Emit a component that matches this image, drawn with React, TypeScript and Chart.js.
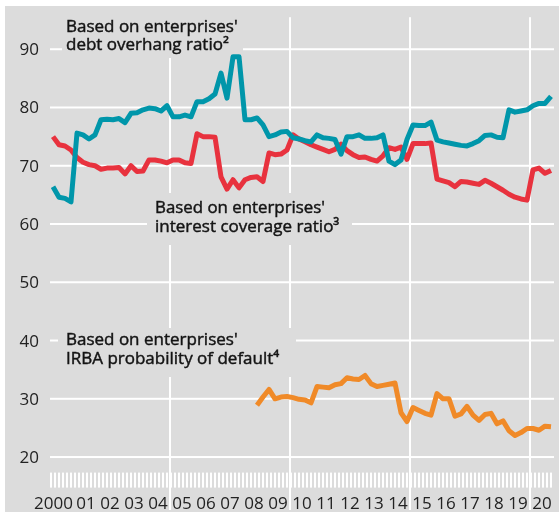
import React, { useEffect, useRef } from "react";
import { Chart, registerables } from "chart.js";

Chart.register(...registerables);

// Quarterly series, 2000 Q1 - 2020 Q4
const startYear = 2000;
const debtOverhang = [
  66.4, 64.6, 64.4, 63.8,
  75.6, 75.3, 74.6, 75.3,
  77.9, 78.0, 77.9, 78.1,
  77.4, 79.0, 79.1, 79.6,
  79.9, 79.8, 79.4, 80.3,
  78.4, 78.4, 78.7, 78.4,
  81.0, 81.0, 81.5, 82.3,
  85.9, 81.6, 88.7, 88.7,
  77.9, 77.9, 78.2, 77.0,
  75.0, 75.3, 75.8, 75.9,
  74.8, 74.6, 74.3, 74.1,
  75.3, 74.8, 74.7, 74.5,
  72.0, 75.0, 75.0, 75.3,
  74.7, 74.7, 74.8, 75.3,
  70.8, 70.2, 71.0, 74.5,
  77.0, 76.9, 76.9, 77.5,
  74.4, 74.1, 73.9, 73.7,
  73.5, 73.4, 73.8, 74.3,
  75.2, 75.3, 74.9, 74.8,
  79.6, 79.2, 79.4, 79.6,
  80.3, 80.7, 80.7, 81.9,
];
const interestCoverage = [
  75.0, 73.6, 73.4, 72.7,
  71.4, 70.6, 70.2, 70.0,
  69.4, 69.6, 69.6, 69.7,
  68.6, 70.0, 69.0, 69.1,
  71.0, 71.0, 70.8, 70.5,
  71.0, 71.0, 70.5, 70.4,
  75.5, 75.0, 75.0, 74.9,
  68.1, 66.0, 67.6, 66.2,
  67.6, 68.0, 68.1, 67.3,
  72.2, 71.9, 72.0, 72.7,
  75.3, 74.6, 74.1, 73.6,
  73.2, 72.8, 72.4, 72.8,
  73.7, 72.6, 71.9, 71.4,
  71.5, 71.1, 70.8, 71.7,
  73.1, 72.8, 73.2, 71.1,
  73.8, 73.8, 73.8, 73.9,
  67.7, 67.4, 67.1, 66.4,
  67.3, 67.2, 67.0, 66.8,
  67.5, 67.0, 66.4, 65.8,
  65.1, 64.6, 64.3, 64.1,
  69.3, 69.6, 68.7, 69.2,
];
// IRBA series starts in 2008 Q3 (quarter index 34)
const irbaStartQuarter = 34;
const irbaPD = [
  28.9, 30.3, 31.6, 30.0, 30.3, 30.4,
  30.2, 29.9, 29.8, 29.3,
  32.1, 32.0, 31.9, 32.4,
  32.6, 33.6, 33.4, 33.3,
  34.0, 32.6, 32.1, 32.3,
  32.5, 32.7, 27.6, 26.1,
  28.5, 28.0, 27.5, 27.2,
  30.9, 30.0, 30.0, 27.0,
  27.4, 28.7, 27.2, 26.3,
  27.3, 27.5, 25.7, 26.2,
  24.5, 23.7, 24.2, 24.9,
  24.9, 24.6, 25.3, 25.2,
];

const yTickValues = [20, 30, 40, 50, 60, 70, 80, 90];
const yearLabels = [
  "2000", "01", "02", "03", "04", "05", "06", "07", "08", "09", "10",
  "11", "12", "13", "14", "15", "16", "17", "18", "19", "20",
];
const gridYears = [2005, 2010, 2015, 2020];

const seriesLabels = [
  ["Based on enterprises'", "debt overhang ratio\u00b2"],
  ["Based on enterprises'", "interest coverage ratio\u00b3"],
  ["Based on enterprises'", "IRBA probability of default\u2074"],
];

const TEAL = "#0096aa";
const RED = "#e8323e";
const ORANGE = "#f08a28";
const BG = "#dcdcdc";
const TEXT = "#141414";
const FONT = '"Open Sans", "Noto Sans", sans-serif';

const quarterX = (q: number) => startYear + (q + 0.5) / 4;

const decorPlugin = {
  id: "decor",
  beforeDatasetsDraw(chart: any) {
    const ctx = chart.ctx as CanvasRenderingContext2D;
    const xs = chart.scales.x;
    const ys = chart.scales.y;
    const area = chart.chartArea;
    const x0 = xs.getPixelForValue(2000);
    const x1 = xs.getPixelForValue(2021);
    ctx.save();
    // background
    ctx.fillStyle = BG;
    ctx.fillRect(5, 6, chart.width - 5, 506);

    // horizontal grid
    ctx.fillStyle = "#ffffff";
    yTickValues.forEach((v) => {
      const y = ys.getPixelForValue(v);
      ctx.fillRect(x0, y - 1, x1 - x0, 2);
    });
    // vertical grid
    gridYears.forEach((yr) => {
      const x = xs.getPixelForValue(yr);
      ctx.fillRect(x - 1, area.top, 2, 510 - area.top);
    });
    // minor ticks (every two months)
    for (let m = 0; m < 21 * 12; m += 2) {
      const x = xs.getPixelForValue(2000 + m / 12);
      ctx.fillRect(Math.round(x), area.bottom + 1, 2, 15);
    }

    // boxes behind the labels
    ctx.fillStyle = BG;
    ctx.fillRect(62, 10, 181, 48);
    ctx.fillRect(147, 193, 205, 52);
    ctx.fillRect(58, 328, 238, 49);

    // series labels
    ctx.fillStyle = TEXT;
    ctx.strokeStyle = TEXT;
    ctx.lineWidth = 0.45;
    ctx.textAlign = "left";
    ctx.textBaseline = "alphabetic";
    ctx.font = `17px ${FONT}`;
    const lab = (t: string, x: number, y: number, w: number) => {
      ctx.fillText(t, x, y, w);
      ctx.strokeText(t, x, y, w);
    };
    lab(seriesLabels[0][0], 66, 32, 175);
    lab(seriesLabels[0][1], 66, 50, 176);
    lab(seriesLabels[1][0], 155, 213, 170);
    lab(seriesLabels[1][1], 155, 232, 188);
    lab(seriesLabels[2][0], 66, 345, 172);
    lab(seriesLabels[2][1], 66, 364, 217);

    // y tick labels
    ctx.fillStyle = "#222222";
    ctx.font = `17px ${FONT}`;
    ctx.textAlign = "right";
    yTickValues.forEach((v) => {
      const y = ys.getPixelForValue(v);
      ctx.fillText(String(v), 39, y + 6);
    });
    // x year labels
    yearLabels.forEach((t, i) => {
      if (i === 0) {
        ctx.textAlign = "right";
        ctx.fillText(t, xs.getPixelForValue(2001) - 1, 509);
      } else {
        ctx.textAlign = "center";
        ctx.fillText(t, xs.getPixelForValue(2000 + i + 0.5), 509, 21);
      }
    });
    ctx.restore();
  },
};

export default function App() {
  const ref = useRef<HTMLCanvasElement | null>(null);
  useEffect(() => {
    if (!ref.current) return;
    const chart = new Chart(ref.current, {
      type: "line",
      data: {
        datasets: [
          {
            label: "debt overhang",
            data: debtOverhang.map((v, q) => ({ x: quarterX(q), y: v })),
            borderColor: TEAL,
            borderWidth: 5,
          },
          {
            label: "interest coverage",
            data: interestCoverage.map((v, q) => ({ x: quarterX(q), y: v })),
            borderColor: RED,
            borderWidth: 5,
          },
          {
            label: "IRBA",
            data: irbaPD.map((v, i) => ({ x: quarterX(i + irbaStartQuarter), y: v })),
            borderColor: ORANGE,
            borderWidth: 5,
          },
        ],
      },
      options: {
        animation: false,
        responsive: false,
        devicePixelRatio: 1,
        layout: { padding: { left: 50, right: 5, top: 17.2, bottom: 43.4 } },
        elements: {
          point: { radius: 0, hoverRadius: 0 },
          line: { tension: 0, borderJoinStyle: "round", borderCapStyle: "butt", fill: false },
        },
        scales: {
          x: { type: "linear", min: 2000, max: 2021, display: false },
          y: { type: "linear", min: 17.5, max: 95.5, display: false },
        },
        plugins: { legend: { display: false }, tooltip: { enabled: false } },
      },
      plugins: [decorPlugin],
    } as any);
    return () => chart.destroy();
  }, []);
  return (
    <div style={{ position: "absolute", left: 0, top: 0, width: 559, height: 515, background: "#fff" }}>
      <canvas ref={ref} width={559} height={515} style={{ display: "block" }} />
    </div>
  );
}
